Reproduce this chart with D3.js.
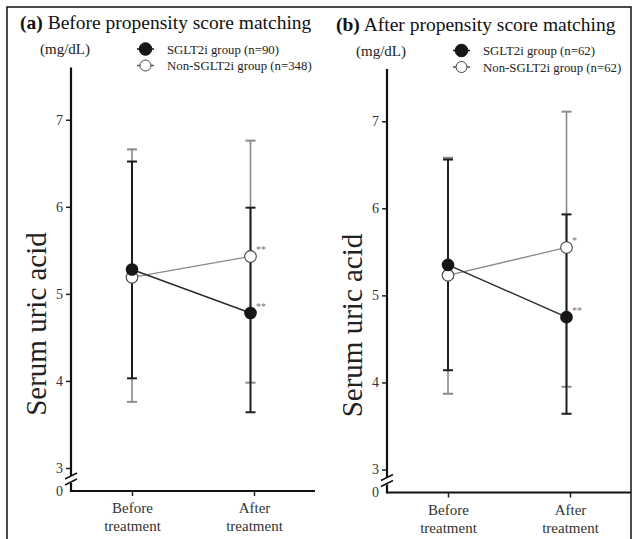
<!DOCTYPE html>
<html>
<head>
<meta charset="utf-8">
<script src="https://cdn.jsdelivr.net/npm/d3@7"></script>
<style>
  body { margin: 0; background: #fff; }
  svg text { font-family: "Liberation Serif", "Times New Roman", serif; }
</style>
</head>
<body>
<script>
// data
var timepoints = ["Before", "After"];
var groups = ["SGLT2i group", "Non-SGLT2i group"];
var yTicks = [0, 3, 4, 5, 6, 7];

var titlesA = ["(a)", " Before propensity score matching"];
var titlesB = ["(b)", " After propensity score matching"];
var nA = [90, 348];
var nB = [62, 62];

// panel a
var sgltMeanA = [5.28, 4.78];
var sgltLowA = [4.03, 3.64];
var sgltHighA = [6.52, 5.99];
var nonMeanA = [5.19, 5.43];
var nonLowA = [3.76, 3.98];
var nonHighA = [6.66, 6.76];
var sgltSigA = ["", "**"];
var nonSigA = ["", "**"];

// panel b
var sgltMeanB = [5.35, 4.75];
var sgltLowB = [4.14, 3.64];
var sgltHighB = [6.56, 5.93];
var nonMeanB = [5.23, 5.55];
var nonLowB = [3.87, 3.95];
var nonHighB = [6.58, 7.11];
var sgltSigB = ["", "**"];
var nonSigB = ["", "*"];

var w = 637, h = 539;
var svg = d3.select("body").append("svg")
  .attr("width", w).attr("height", h)
  .attr("font-family", "Liberation Serif, serif");

// outer frame
svg.append("rect")
  .attr("x", 7).attr("y", 7)
  .attr("width", 624).attr("height", 540)
  .attr("fill", "none").attr("stroke", "#111").attr("stroke-width", 1.5);

var black = "#161616", grey = "#8a8a8a";

function panel(ox, oy, titles, n, sM, sL, sH, nM, nL, nH, sSig, nSig) {
  var g = svg.append("g").attr("transform", "translate(" + ox + "," + oy + ")");

  // ticks sit a bit right of the plotted "After" column in the original
  var xt = d3.scalePoint().domain(timepoints).range([71, 315]).padding(0.5);
  var x = d3.scalePoint().domain(timepoints).range([132, 250.5]);
  // broken axis: 0 at the bottom, 3..7.6 above
  var y = d3.scaleLinear().domain([0, 3, 7.6]).range([491, 468, 67.5]);

  // title
  var t = g.append("text").attr("x", 20).attr("y", 29)
    .attr("font-size", "19.5px").attr("fill", "#111");
  t.append("tspan").attr("font-weight", "bold").text(titles[0]);
  t.append("tspan").text(titles[1]);

  g.append("text").attr("x", 40).attr("y", 54)
    .attr("font-size", "15px").attr("fill", "#222").text("(mg/dL)");

  // legend
  var leg = g.selectAll(".leg").data(groups).enter().append("g")
    .attr("transform", function(d, i) { return "translate(0," + (49 + i * 16.5) + ")"; });
  leg.append("line").attr("x1", 137).attr("x2", 154).attr("y1", 0).attr("y2", 0)
    .attr("stroke", function(d, i) { return i ? "#555" : black; })
    .attr("stroke-width", 1.5);
  leg.append("circle").attr("cx", 145.5).attr("cy", 0).attr("r", function(d, i) { return i ? 5.5 : 6.3; })
    .attr("fill", function(d, i) { return i ? "#fff" : black; })
    .attr("stroke", function(d, i) { return i ? "#444" : black; })
    .attr("stroke-width", 1);
  leg.append("text").attr("x", 167).attr("y", 4.5)
    .attr("font-size", "12.8px").attr("fill", "#222")
    .text(function(d, i) { return d + " (n=" + n[i] + ")"; });

  // y axis with break
  var yAxis = d3.axisLeft(y).tickValues(yTicks).tickSize(5).tickPadding(3)
    .tickFormat(d3.format("d"));
  var ya = g.append("g").attr("transform", "translate(71,0)").call(yAxis);
  ya.select(".domain").remove();
  ya.selectAll(".tick line").attr("stroke", "#222").attr("stroke-width", 1.5);
  ya.selectAll(".tick").filter(function(d) { return d === 0; }).select("line").remove();
  ya.selectAll(".tick text").attr("font-size", "14px").attr("fill", "#333");

  g.append("line").attr("x1", 71).attr("x2", 71).attr("y1", y(7.6)).attr("y2", 476)
    .attr("stroke", "#111").attr("stroke-width", 2.2);
  g.append("line").attr("x1", 71).attr("x2", 71).attr("y1", 483).attr("y2", 492)
    .attr("stroke", "#111").attr("stroke-width", 2.2);
  [0, 6].forEach(function(dy) {
    g.append("line").attr("x1", 65).attr("x2", 77)
      .attr("y1", 479 + dy).attr("y2", 473 + dy)
      .attr("stroke", "#111").attr("stroke-width", 1.5);
  });

  // x axis
  var xAxis = d3.axisBottom(xt).tickSize(5).tickFormat("");
  var xa = g.append("g").attr("transform", "translate(0," + y(0) + ")").call(xAxis);
  xa.select(".domain").attr("stroke", "#111").attr("stroke-width", 2.2)
    .attr("d", "M71,0H315");
  xa.selectAll(".tick line").attr("stroke", "#222").attr("stroke-width", 1.5);
  var xl = xa.selectAll(".tick").append("text").attr("fill", "#333")
    .attr("font-size", "15px").attr("text-anchor", "middle");
  xl.append("tspan").attr("x", 0).attr("y", 22).text(function(d) { return d; });
  xl.append("tspan").attr("x", 0).attr("y", 40).text("treatment");

  g.append("text").attr("transform", "translate(46," + 324 + ") rotate(-90)")
    .attr("text-anchor", "middle").attr("font-size", "29px").attr("fill", "#222")
    .text("Serum uric acid");

  // connecting lines
  var line = d3.line().x(function(d, i) { return x(timepoints[i]); }).y(function(d) { return y(d); });
  g.append("path").datum(nM).attr("d", line).attr("fill", "none")
    .attr("stroke", grey).attr("stroke-width", 1.3);
  g.append("path").datum(sM).attr("d", line).attr("fill", "none")
    .attr("stroke", "#2a2a2a").attr("stroke-width", 1.4);

  function bars(lo, hi, col, sw) {
    var b = g.selectAll(null).data(timepoints).enter().append("g");
    b.append("line")
      .attr("x1", function(d) { return x(d); }).attr("x2", function(d) { return x(d); })
      .attr("y1", function(d, i) { return y(lo[i]); }).attr("y2", function(d, i) { return y(hi[i]); })
      .attr("stroke", col).attr("stroke-width", sw);
    [lo, hi].forEach(function(arr) {
      b.append("line")
        .attr("x1", function(d) { return x(d) - 5; }).attr("x2", function(d) { return x(d) + 5; })
        .attr("y1", function(d, i) { return y(arr[i]); }).attr("y2", function(d, i) { return y(arr[i]); })
        .attr("stroke", col).attr("stroke-width", 2);
    });
  }
  bars(nL, nH, grey, 1.6);
  bars(sL, sH, "#1e1e1e", 2);

  // points
  g.selectAll(null).data(nM).enter().append("circle")
    .attr("cx", function(d, i) { return x(timepoints[i]); }).attr("cy", function(d) { return y(d); })
    .attr("r", 5.8).attr("fill", "#fff").attr("stroke", "#444").attr("stroke-width", 1.1);
  g.selectAll(null).data(sM).enter().append("circle")
    .attr("cx", function(d, i) { return x(timepoints[i]); }).attr("cy", function(d) { return y(d); })
    .attr("r", 6.3).attr("fill", black);

  // significance marks
  [[nM, nSig], [sM, sSig]].forEach(function(p) {
    g.selectAll(null).data(p[0]).enter().append("text")
      .attr("x", function(d, i) { return x(timepoints[i]) + 5.5; })
      .attr("y", function(d) { return y(d) - 3; })
      .attr("font-size", "10px").attr("fill", "#777")
      .text(function(d, i) { return p[1][i]; });
  });
}

panel(0, 0, titlesA, nA, sgltMeanA, sgltLowA, sgltHighA, nonMeanA, nonLowA, nonHighA, sgltSigA, nonSigA);
panel(316, 1.5, titlesB, nB, sgltMeanB, sgltLowB, sgltHighB, nonMeanB, nonLowB, nonHighB, sgltSigB, nonSigB);
</script>
</body>
</html>
